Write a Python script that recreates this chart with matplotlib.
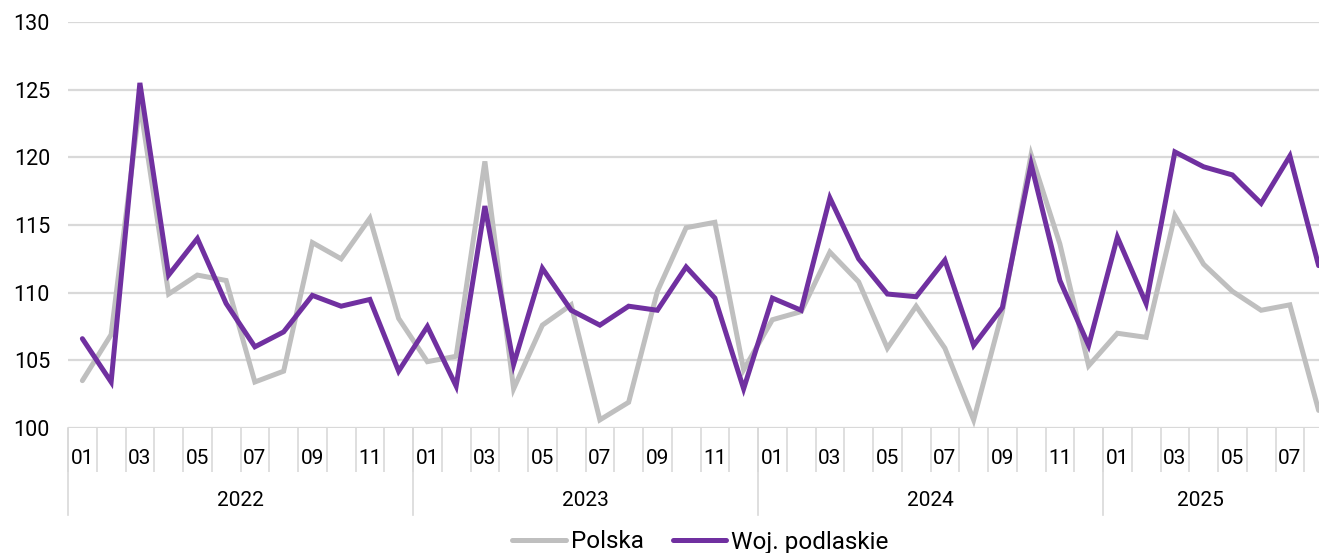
import matplotlib.pyplot as plt
import numpy as np
from matplotlib import transforms

plt.rcParams['font.family'] = ['Roboto', 'DejaVu Sans']

# monthly data, Jan 2022 - Aug 2025
years = ['2022', '2023', '2024', '2025']
months = ['01', '02', '03', '04', '05', '06', '07', '08', '09', '10', '11', '12'] * 3 + \
         ['01', '02', '03', '04', '05', '06', '07', '08']

polska = [103.5, 106.9, 124.0, 109.9, 111.3, 110.9, 103.4, 104.2, 113.7, 112.5, 115.5, 108.1,
          104.9, 105.3, 119.7, 102.9, 107.6, 109.1, 100.6, 101.9, 110.1, 114.8, 115.2, 104.3,
          108.0, 108.6, 113.0, 110.8, 105.9, 109.0, 105.9, 100.6, 108.6, 120.2, 113.6, 104.6,
          107.0, 106.7, 115.7, 112.1, 110.1, 108.7, 109.1, 101.3]
podlaskie = [106.6, 103.4, 125.5, 111.3, 114.0, 109.2, 106.0, 107.1, 109.8, 109.0, 109.5, 104.2,
             107.5, 103.1, 116.4, 104.7, 111.8, 108.7, 107.6, 109.0, 108.7, 111.9, 109.6, 102.9,
             109.6, 108.7, 117.0, 112.5, 109.9, 109.7, 112.4, 106.1, 108.9, 119.5, 110.9, 106.1,
             114.1, 109.2, 120.4, 119.3, 118.7, 116.6, 120.1, 112.0]

n = len(months)
x = np.arange(n)
grid_col = '#d9d9d9'

fig = plt.figure(figsize=(13.19, 5.53), dpi=100)
ax = fig.add_axes([68 / 1319, 1 - 428 / 553, 1265 / 1319, 406 / 553])

ax.plot(x, polska, color='#bfbfbf', lw=3.6, solid_joinstyle='miter', solid_capstyle='round',
        label='Polska', zorder=3)
ax.plot(x, podlaskie, color='#7030a0', lw=3.6, solid_joinstyle='miter', solid_capstyle='round',
        label='Woj. podlaskie', zorder=4)

ax.set_xlim(-0.5, n - 0.5)
ax.set_ylim(100, 130)
ax.set_yticks(np.arange(100, 131, 5))
ax.grid(axis='y', color=grid_col, lw=1.6)
ax.set_axisbelow(True)
for s in ax.spines.values():
    s.set_visible(False)
ax.tick_params(axis='y', length=0, pad=13, labelsize=15.5)

# month labels (odd months) + separators between categories
odd = [i for i in range(n) if int(months[i]) % 2 == 1]
ax.set_xticks(odd)
ax.set_xticklabels([months[i] for i in odd])
ax.tick_params(axis='x', which='major', length=0, pad=15, labelsize=15)
ax.set_xticks(np.arange(-0.5, n, 1), minor=True)
ax.tick_params(axis='x', which='minor', length=31.5, width=1.2, color=grid_col)

# year group separators and labels
trans = transforms.blended_transform_factory(ax.transData, ax.transAxes)
starts = [i - 0.5 for i in range(n) if months[i] == '01']
for s in starts:
    ax.plot([s, s], [0, -87 / 406], color=grid_col, lw=1.2, transform=trans, clip_on=False)
year_pos = [5.5, 17.5, 29.5, 38.9]
for yp, yr in zip(year_pos, years):
    ax.text(yp, -72 / 406, yr, transform=trans, ha='center', va='center', fontsize=15)

ax.legend(loc='center', bbox_to_anchor=(0.5, -114 / 406), ncol=2, frameon=False,
          fontsize=17.5, handlelength=2.2, handletextpad=0.2, columnspacing=1.2, borderpad=0)

fig.savefig('out.png', dpi=100)
